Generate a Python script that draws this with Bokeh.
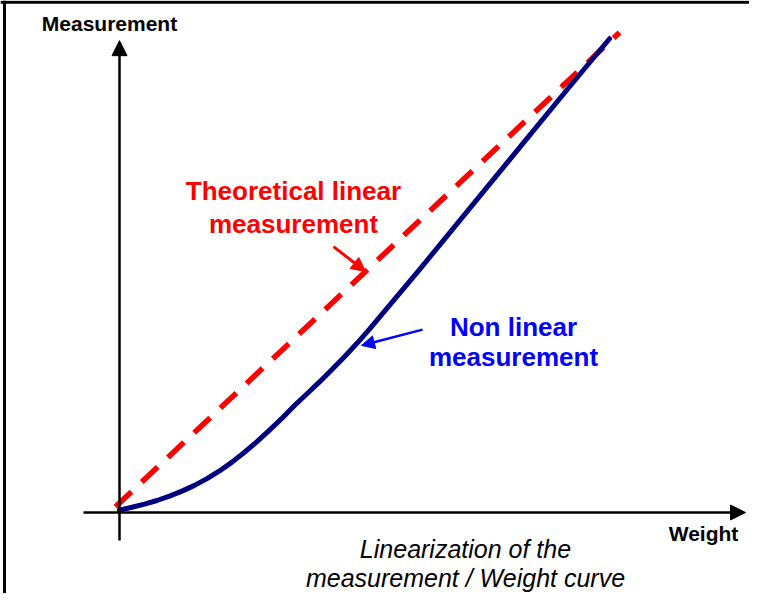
from bokeh.plotting import figure
from bokeh.models import Range1d, Arrow, NormalHead, Label, Span
from bokeh.embed import file_html
from bokeh.resources import INLINE

# ---- data (weight vs measurement, arbitrary units) ----
curve_weight = [0, 2.5, 5, 7.5, 10, 12.5, 15, 17.5, 20, 22.5, 25, 27.5, 30,
                32.5, 35, 37.5, 40, 42.5, 45, 47.5, 50, 55, 60, 65, 70, 80, 90, 98]
curve_measurement = [0.5, 1.1, 1.75, 2.5, 3.4, 4.45, 5.65, 7.05, 8.65, 10.5,
                     12.55, 14.75, 17.15, 19.65, 22.3, 24.75, 27.2, 29.8,
                     32.45, 35.25, 38.2, 44.4, 50.6, 56.95, 63.3, 76.0, 88.7, 98.7]
linear_weight = [-0.8, 100]
linear_measurement = [1.2, 100]

x_axis_label = "Weight"
y_axis_label = "Measurement"
linear_label = ["Theoretical linear", "measurement"]
nonlinear_label = ["Non linear", "measurement"]
caption = ["Linearization of the", "measurement / Weight curve"]

FONT = "Liberation Sans"
RED = "#ff0000"
NAVY = "#000080"
BLUE = "#0000ff"

W, H = 749, 593
XMIN = -23.8
YMAX = 106.667
p = figure(width=W, height=H, output_backend="svg", toolbar_location=None,
           x_range=Range1d(XMIN, XMIN + W / 5.0),
           y_range=Range1d(YMAX - H / 4.8, YMAX),
           min_border=0, min_border_left=0, min_border_right=0,
           min_border_top=0, min_border_bottom=0)
p.axis.visible = False
p.grid.visible = False
p.outline_line_color = None
p.background_fill_color = "white"
p.border_fill_color = "white"

# outer frame (left and top edges visible)
p.add_layout(Span(location=-23.0, dimension="height", line_color="black", line_width=3))
p.add_layout(Span(location=106.3, dimension="width", line_color="black", line_width=3))

# axes with arrows
p.add_layout(Arrow(x_start=-7.2, y_start=0, x_end=125.2, y_end=0,
                   line_color="black", line_width=2.5,
                   end=NormalHead(size=15, fill_color="black", line_color="black")))
p.add_layout(Arrow(x_start=0, y_start=-5.83, x_end=0, y_end=98.3,
                   line_color="black", line_width=2.5,
                   end=NormalHead(size=15, fill_color="black", line_color="black")))

# theoretical linear (dashed) and non-linear curve
p.line(linear_weight, linear_measurement, line_color=RED, line_width=5.5,
       line_dash="22 14")
p.line(curve_weight, curve_measurement, line_color=NAVY, line_width=5,
       line_join="round", line_cap="round")

# annotation arrows
p.add_layout(Arrow(x_start=42.8, y_start=55.4, x_end=49.2, y_end=50.2,
                   line_color=RED, line_width=3,
                   end=NormalHead(size=14, fill_color=RED, line_color=RED)))
p.add_layout(Arrow(x_start=60.6, y_start=38.1, x_end=48.4, y_end=34.8,
                   line_color=BLUE, line_width=2.5,
                   end=NormalHead(size=13, fill_color=BLUE, line_color=BLUE)))

def lab(x, y, t, color="black", size="21px", style="bold"):
    p.add_layout(Label(x=x, y=y, text=t, text_font=FONT, text_font_size=size,
                       text_font_style=style, text_color=color,
                       text_align="center", text_baseline="alphabetic"))

lab(-2.0, 101.9, y_axis_label)
lab(116.8, -4.4, x_axis_label)
lab(34.8, 66.9, linear_label[0], RED, "26px")
lab(34.8, 60.2, linear_label[1], RED, "26px")
lab(78.8, 38.75, nonlinear_label[0], BLUE, "26px")
lab(78.8, 32.5, nonlinear_label[1], BLUE, "26px")
lab(69.2, -7.7, caption[0], "black", "25px", "italic")
lab(69.2, -13.55, caption[1], "black", "25px", "italic")

open("out.html", "w").write(file_html(p, INLINE))
